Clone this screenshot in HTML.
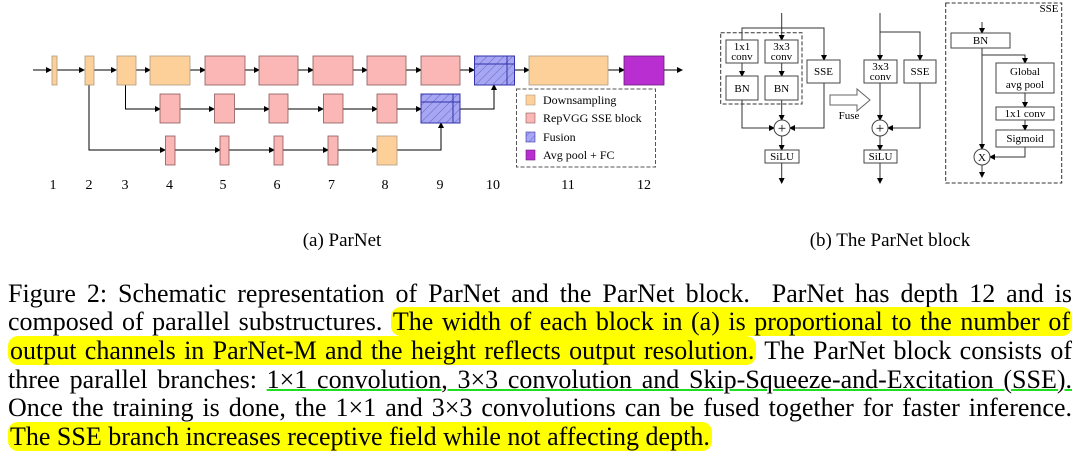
<!DOCTYPE html>
<html><head><meta charset="utf-8"><style>
body{margin:0;background:#fff;width:1087px;height:465px;overflow:hidden;position:relative;font-family:"Liberation Serif","Times New Roman",serif;}
.ln{position:absolute;left:8px;width:1064px;font-size:26px;line-height:28px;text-align:justify;text-align-last:justify;white-space:nowrap;color:#000;}
.ln.last{text-align-last:left;}
.hl{background:#ffff00;border-radius:10px;padding:0 2px;}
.ul{text-decoration:underline;text-decoration-color:#22dd22;text-decoration-thickness:2px;}
</style></head><body>
<svg width="1087" height="270" style="position:absolute;left:0;top:0" font-family="Liberation Serif, Times New Roman, serif">
<defs>
<marker id="a" markerWidth="6" markerHeight="6" refX="5" refY="3" orient="auto" markerUnits="userSpaceOnUse"><path d="M0,0 L6,3 L0,6z" fill="#000"/></marker>
<pattern id="h" width="6" height="6" patternUnits="userSpaceOnUse" patternTransform="rotate(45)"><rect width="6" height="6" fill="#a6a6f2"/><line x1="0" y1="0" x2="0" y2="6" stroke="#6666cc" stroke-width="1"/></pattern>
</defs>
<g stroke="#000" stroke-width="1" fill="none">
<line x1="33" y1="70" x2="51" y2="70" marker-end="url(#a)"/>
<line x1="57" y1="70" x2="84" y2="70" marker-end="url(#a)"/>
<line x1="94" y1="70" x2="116" y2="70" marker-end="url(#a)"/>
<line x1="136" y1="70" x2="150" y2="70" marker-end="url(#a)"/>
<line x1="190" y1="70" x2="205" y2="70" marker-end="url(#a)"/>
<line x1="245" y1="70" x2="259" y2="70" marker-end="url(#a)"/>
<line x1="298" y1="70" x2="313" y2="70" marker-end="url(#a)"/>
<line x1="353" y1="70" x2="367" y2="70" marker-end="url(#a)"/>
<line x1="406" y1="70" x2="421" y2="70" marker-end="url(#a)"/>
<line x1="460" y1="70" x2="474" y2="70" marker-end="url(#a)"/>
<line x1="515" y1="70" x2="529" y2="70" marker-end="url(#a)"/>
<line x1="608" y1="70" x2="624" y2="70" marker-end="url(#a)"/>
<line x1="664" y1="70" x2="682" y2="70" marker-end="url(#a)"/>
<polyline points="125.5,85 125.5,109 160,109" marker-end="url(#a)"/>
<line x1="180" y1="109" x2="214" y2="109" marker-end="url(#a)"/>
<line x1="235" y1="109" x2="269" y2="109" marker-end="url(#a)"/>
<line x1="288" y1="109" x2="323" y2="109" marker-end="url(#a)"/>
<line x1="343" y1="109" x2="377" y2="109" marker-end="url(#a)"/>
<line x1="397" y1="109" x2="421" y2="109" marker-end="url(#a)"/>
<polyline points="460,109 494,109 494,85" marker-end="url(#a)"/>
<polyline points="89,85 89,150 165,150" marker-end="url(#a)"/>
<line x1="175" y1="150" x2="220" y2="150" marker-end="url(#a)"/>
<line x1="229" y1="150" x2="274" y2="150" marker-end="url(#a)"/>
<line x1="283" y1="150" x2="328" y2="150" marker-end="url(#a)"/>
<line x1="338" y1="150" x2="377" y2="150" marker-end="url(#a)"/>
<polyline points="397,150 441,150 441,123" marker-end="url(#a)"/>
</g>
<g stroke="#b09a80" stroke-width="0.8">
<rect x="52" y="56" width="5" height="29" fill="#fdd09a"/>
<rect x="85" y="56" width="9" height="29" fill="#fdd09a"/>
<rect x="117" y="56" width="19" height="29" fill="#fdd09a"/>
<rect x="150" y="56" width="40" height="29" fill="#fdd09a"/>
<rect x="529" y="56" width="79" height="29" fill="#fdd09a"/>
<rect x="377" y="136" width="20" height="29" fill="#fdd09a"/>
</g>
<g stroke="#8a5a5a" stroke-width="0.8" fill="#fbb6b6">
<rect x="205" y="56" width="40" height="29"/><rect x="259" y="56" width="39" height="29"/>
<rect x="313" y="56" width="40" height="29"/><rect x="367" y="56" width="39" height="29"/>
<rect x="421" y="56" width="39" height="29"/>
<rect x="160" y="94" width="20" height="29"/><rect x="214.5" y="94" width="20" height="29"/>
<rect x="269" y="94" width="19" height="29"/><rect x="323.5" y="94" width="19.5" height="29"/>
<rect x="377" y="94" width="20" height="29"/>
<rect x="165.5" y="136" width="9.5" height="29"/><rect x="220" y="136" width="9" height="29"/>
<rect x="274" y="136" width="9" height="29"/><rect x="328" y="136" width="10" height="29"/>
</g>
<g stroke="#3333aa" stroke-width="1">
<rect x="474.5" y="56" width="40" height="29" fill="url(#h)"/>
<line x1="474.5" y1="64" x2="514.5" y2="64"/><line x1="507" y1="56" x2="507" y2="85"/>
<rect x="421" y="94" width="39" height="29" fill="url(#h)"/>
<line x1="421" y1="102" x2="460" y2="102"/><line x1="453" y1="94" x2="453" y2="123"/>
</g>
<rect x="624" y="56" width="40" height="29" fill="#b82ed0" stroke="#6a1a7a" stroke-width="0.8"/>
<rect x="516.5" y="89" width="139" height="78" fill="none" stroke="#555" stroke-dasharray="4,2"/>
<rect x="526" y="95" width="9" height="10" fill="#fdd09a" stroke="#b09a80" stroke-width="0.6"/>
<rect x="526" y="113" width="9" height="10" fill="#fbb6b6" stroke="#8a5a5a" stroke-width="0.6"/>
<rect x="526" y="132" width="9" height="10" fill="url(#h)" stroke="#3333aa" stroke-width="0.6"/>
<rect x="526" y="150" width="9" height="10" fill="#b82ed0" stroke="#6a1a7a" stroke-width="0.6"/>
<g font-size="12" fill="#000">
<text x="543" y="104">Downsampling</text><text x="543" y="122">RepVGG SSE block</text>
<text x="543" y="141">Fusion</text><text x="543" y="159">Avg pool + FC</text>
</g>
<g font-size="14" text-anchor="middle" fill="#000">
<text x="53" y="189">1</text><text x="89" y="189">2</text><text x="125" y="189">3</text><text x="169.5" y="189">4</text>
<text x="223" y="189">5</text><text x="277" y="189">6</text><text x="331.5" y="189">7</text><text x="385" y="189">8</text>
<text x="440" y="189">9</text><text x="493" y="189">10</text><text x="568" y="189">11</text><text x="644" y="189">12</text>
</g>
<text x="342" y="246" font-size="19" text-anchor="middle">(a) ParNet</text>
<text x="890" y="246" font-size="19" text-anchor="middle">(b) The ParNet block</text>
<g stroke="#333" stroke-width="1" fill="none">
<line x1="781.7" y1="13" x2="781.7" y2="40" marker-end="url(#a)"/>
<polyline points="742,40 742,28 824,28 824,60" marker-end="url(#a)"/>
<line x1="742" y1="63" x2="742" y2="76" marker-end="url(#a)"/>
<line x1="781.7" y1="63" x2="781.7" y2="76" marker-end="url(#a)"/>
<line x1="781.7" y1="100" x2="781.7" y2="120" marker-end="url(#a)"/>
<polyline points="742,100 742,128 774,128" marker-end="url(#a)"/>
<polyline points="824,83 824,128 790,128" marker-end="url(#a)"/>
<line x1="781.7" y1="136" x2="781.7" y2="150" marker-end="url(#a)"/>
<line x1="781.7" y1="163" x2="781.7" y2="183" marker-end="url(#a)"/>
<rect x="720.7" y="32.7" width="81.3" height="71.3" stroke-dasharray="4,2"/>
<line x1="880" y1="13" x2="880" y2="60" marker-end="url(#a)"/>
<polyline points="880,32 920,32 920,60" marker-end="url(#a)"/>
<line x1="880" y1="83" x2="880" y2="120" marker-end="url(#a)"/>
<polyline points="920,83 920,128 888,128" marker-end="url(#a)"/>
<line x1="880" y1="136" x2="880" y2="150" marker-end="url(#a)"/>
<line x1="880" y1="163" x2="880" y2="183" marker-end="url(#a)"/>
<rect x="945.7" y="3" width="116" height="180" stroke-dasharray="4,2"/>
<line x1="982" y1="22" x2="982" y2="33" marker-end="url(#a)"/>
<line x1="982" y1="48" x2="982" y2="149" marker-end="url(#a)"/>
<polyline points="982,55 1025,55 1025,63" marker-end="url(#a)"/>
<line x1="1025" y1="93" x2="1025" y2="107" marker-end="url(#a)"/>
<line x1="1025" y1="120" x2="1025" y2="130" marker-end="url(#a)"/>
<polyline points="1025,147 1025,157 990,157" marker-end="url(#a)"/>
<line x1="982" y1="165" x2="982" y2="177" marker-end="url(#a)"/>
<path d="M830,95 L857,95 L857,89 L870,100 L857,111 L857,105 L830,105z" stroke="#666"/>
</g>
<g stroke="#444" stroke-width="1" fill="#fff">
<rect x="726" y="40" width="32" height="23"/><rect x="765" y="40" width="33" height="23"/>
<rect x="726" y="76" width="32" height="24"/><rect x="765" y="76" width="33" height="24"/>
<rect x="807" y="60" width="33" height="23"/>
<circle cx="782" cy="128" r="8"/><rect x="765" y="150" width="34" height="13"/>
<rect x="864" y="60" width="33" height="23"/><rect x="904" y="60" width="32" height="23"/>
<circle cx="880" cy="128" r="8"/><rect x="864" y="150" width="33" height="13"/>
<rect x="951" y="33" width="59" height="15"/><rect x="996" y="63" width="58" height="30"/>
<rect x="996" y="107" width="58" height="13"/><rect x="996" y="130" width="58" height="17"/>
<circle cx="982" cy="157" r="8"/>
</g>
<g font-size="11" text-anchor="middle" fill="#000">
<text x="742" y="50">1x1</text><text x="742" y="60">conv</text>
<text x="781.5" y="50">3x3</text><text x="781.5" y="60">conv</text>
<text x="742" y="92">BN</text><text x="781.5" y="92">BN</text>
<text x="823.5" y="75">SSE</text>
<text x="782" y="160">SiLU</text>
<text x="880.5" y="70">3x3</text><text x="880.5" y="80">conv</text>
<text x="920" y="75">SSE</text><text x="880.5" y="160">SiLU</text>
<text x="849" y="119">Fuse</text>
<text x="1049" y="12">SSE</text>
<text x="980.5" y="44">BN</text>
<text x="1025" y="75">Global</text><text x="1025" y="88">avg pool</text>
<text x="1025" y="117">1x1 conv</text><text x="1025" y="142">Sigmoid</text>
</g>
<g font-size="15" text-anchor="middle" fill="#000">
<text x="782" y="133">+</text><text x="880" y="133">+</text>
<text x="982" y="161" font-size="11">X</text>
</g>
</svg>
<div class="ln" style="top:280px">Figure 2: Schematic representation of ParNet and the ParNet block.&nbsp; ParNet has depth 12 and is</div>
<div class="ln" style="top:308px">composed of parallel substructures. <span class="hl">The width of each block in (a) is proportional to the number of</span></div>
<div class="ln" style="top:337px"><span class="hl">output channels in ParNet-M and the height reflects output resolution.</span> The ParNet block consists of</div>
<div class="ln" style="top:366px">three parallel branches: <span class="ul">1×1 convolution, 3×3 convolution and Skip-Squeeze-and-Excitation (SSE).</span></div>
<div class="ln" style="top:394px">Once the training is done, the 1×1 and 3×3 convolutions can be fused together for faster inference.</div>
<div class="ln last" style="top:423px"><span class="hl">The SSE branch increases receptive field while not affecting depth.</span></div>
</body></html>
